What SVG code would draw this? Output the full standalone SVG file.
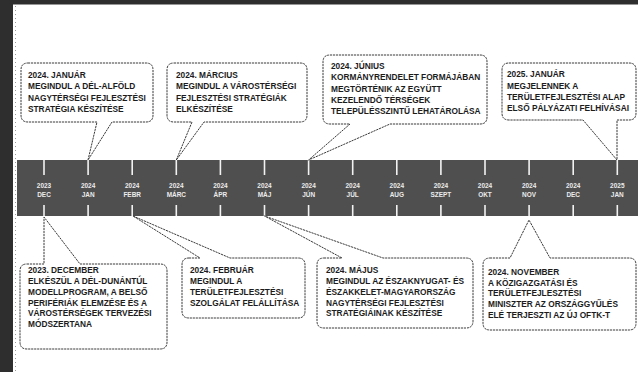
<svg xmlns="http://www.w3.org/2000/svg" width="638" height="372" viewBox="0 0 638 372">
<defs>
<style>
.bg{fill:#ffffff}
.frame{fill:#2e2e2e}
.band{fill:#4f4f4f}
.tick{stroke:#f2f2f2;stroke-width:1.6}
.lbl{font-family:"Liberation Sans",Arial,sans-serif;font-weight:bold;font-size:7.6px;fill:#ececec;text-anchor:middle}
.call{fill:#ffffff;stroke:#3a3a3a;stroke-width:1;stroke-dasharray:2.2 0.8;stroke-linejoin:round}
.txt{font-family:"Liberation Sans",Arial,sans-serif;font-weight:bold;font-size:9.8px;fill:#1c1c1c}
</style>
</defs>
<rect class="bg" x="0" y="0" width="638" height="372"/>
<rect class="frame" x="0" y="0" width="13" height="372"/>
<rect class="frame" x="0" y="0" width="638" height="4.5"/>
<line x1="15.5" y1="6" x2="15.5" y2="372" stroke="#9a9a9a" stroke-width="1" stroke-dasharray="1 3"/>

<g id="timeline">
<rect class="band" x="17" y="160" width="621" height="56"/>
<g id="ticks">
<line class="tick" x1="44" y1="160" x2="44" y2="175"/><line class="tick" x1="44" y1="205" x2="44" y2="216"/>
<line class="tick" x1="88.1" y1="160" x2="88.1" y2="175"/><line class="tick" x1="88.1" y1="205" x2="88.1" y2="216"/>
<line class="tick" x1="132.2" y1="160" x2="132.2" y2="175"/><line class="tick" x1="132.2" y1="205" x2="132.2" y2="216"/>
<line class="tick" x1="176.3" y1="160" x2="176.3" y2="175"/><line class="tick" x1="176.3" y1="205" x2="176.3" y2="216"/>
<line class="tick" x1="220.4" y1="160" x2="220.4" y2="175"/><line class="tick" x1="220.4" y1="205" x2="220.4" y2="216"/>
<line class="tick" x1="264.5" y1="160" x2="264.5" y2="175"/><line class="tick" x1="264.5" y1="205" x2="264.5" y2="216"/>
<line class="tick" x1="308.6" y1="160" x2="308.6" y2="175"/><line class="tick" x1="308.6" y1="205" x2="308.6" y2="216"/>
<line class="tick" x1="352.7" y1="160" x2="352.7" y2="175"/><line class="tick" x1="352.7" y1="205" x2="352.7" y2="216"/>
<line class="tick" x1="396.8" y1="160" x2="396.8" y2="175"/><line class="tick" x1="396.8" y1="205" x2="396.8" y2="216"/>
<line class="tick" x1="440.9" y1="160" x2="440.9" y2="175"/><line class="tick" x1="440.9" y1="205" x2="440.9" y2="216"/>
<line class="tick" x1="485" y1="160" x2="485" y2="175"/><line class="tick" x1="485" y1="205" x2="485" y2="216"/>
<line class="tick" x1="529.1" y1="160" x2="529.1" y2="175"/><line class="tick" x1="529.1" y1="205" x2="529.1" y2="216"/>
<line class="tick" x1="573.2" y1="160" x2="573.2" y2="175"/><line class="tick" x1="573.2" y1="205" x2="573.2" y2="216"/>
<line class="tick" x1="617.3" y1="160" x2="617.3" y2="175"/><line class="tick" x1="617.3" y1="205" x2="617.3" y2="216"/>
</g>
<g id="labels">
<text class="lbl" transform="translate(44 0) scale(.85 1)"><tspan x="0" y="188">2023</tspan><tspan x="0" y="197">DEC</tspan></text>
<text class="lbl" transform="translate(88.1 0) scale(.85 1)"><tspan x="0" y="188">2024</tspan><tspan x="0" y="197">JAN</tspan></text>
<text class="lbl" transform="translate(132.2 0) scale(.85 1)"><tspan x="0" y="188">2024</tspan><tspan x="0" y="197">FEBR</tspan></text>
<text class="lbl" transform="translate(176.3 0) scale(.85 1)"><tspan x="0" y="188">2024</tspan><tspan x="0" y="197">MÁRC</tspan></text>
<text class="lbl" transform="translate(220.4 0) scale(.85 1)"><tspan x="0" y="188">2024</tspan><tspan x="0" y="197">ÁPR</tspan></text>
<text class="lbl" transform="translate(264.5 0) scale(.85 1)"><tspan x="0" y="188">2024</tspan><tspan x="0" y="197">MÁJ</tspan></text>
<text class="lbl" transform="translate(308.6 0) scale(.85 1)"><tspan x="0" y="188">2024</tspan><tspan x="0" y="197">JÚN</tspan></text>
<text class="lbl" transform="translate(352.7 0) scale(.85 1)"><tspan x="0" y="188">2024</tspan><tspan x="0" y="197">JÚL</tspan></text>
<text class="lbl" transform="translate(396.8 0) scale(.85 1)"><tspan x="0" y="188">2024</tspan><tspan x="0" y="197">AUG</tspan></text>
<text class="lbl" transform="translate(440.9 0) scale(.85 1)"><tspan x="0" y="188">2024</tspan><tspan x="0" y="197">SZEPT</tspan></text>
<text class="lbl" transform="translate(485 0) scale(.85 1)"><tspan x="0" y="188">2024</tspan><tspan x="0" y="197">OKT</tspan></text>
<text class="lbl" transform="translate(529.1 0) scale(.85 1)"><tspan x="0" y="188">2024</tspan><tspan x="0" y="197">NOV</tspan></text>
<text class="lbl" transform="translate(573.2 0) scale(.85 1)"><tspan x="0" y="188">2024</tspan><tspan x="0" y="197">DEC</tspan></text>
<text class="lbl" transform="translate(617.3 0) scale(.85 1)"><tspan x="0" y="188">2025</tspan><tspan x="0" y="197">JAN</tspan></text>
</g>
</g>

<g id="connectors">
<path class="call" d="M28,63 H146 Q153,63 153,70 V115 Q153,122 146,122 H112 L88,160 L97,122 H28 Q21,122 21,115 V70 Q21,63 28,63 Z"/>
<path class="call" d="M174,63 H300 Q307,63 307,70 V115 Q307,122 300,122 H204 L176.3,160 L192,122 H174 Q167,122 167,115 V70 Q167,63 174,63 Z"/>
<path class="call" d="M330,55 H480 Q487,55 487,62 V117 Q487,124 480,124 H390 L308.6,160 L350,124 H330 Q323,124 323,117 V62 Q323,55 330,55 Z"/>
<path class="call" d="M509,63 H629 Q636,63 636,70 V113 Q636,120 629,120 H617 L617,160 L583,120 H509 Q502,120 502,113 V70 Q502,63 509,63 Z"/>
<path class="call" d="M27,264 H44 L44,217 L80,264 H160 Q167,264 167,271 V342 Q167,349 160,349 H27 Q20,349 20,342 V271 Q20,264 27,264 Z"/>
<path class="call" d="M189,258 H200 L133,216 L230,258 H298 Q305,258 305,265 V311 Q305,318 298,318 H189 Q182,318 182,311 V265 Q182,258 189,258 Z"/>
<path class="call" d="M324,258 H342 L264.5,216 L383,258 H466 Q473,258 473,265 V321 Q473,328 466,328 H324 Q317,328 317,321 V265 Q317,258 324,258 Z"/>
<path class="call" d="M490,258 H510 L529,220 L550,258 H629 Q636,258 636,265 V323 Q636,330 629,330 H490 Q483,330 483,323 V265 Q483,258 490,258 Z"/>
</g>

<g id="n-2024-jan">
<text class="txt" transform="translate(28 0) scale(.85 1)"><tspan x="0" y="78">2024. JANUÁR</tspan><tspan x="0" y="89.4">MEGINDUL A DÉL-ALFÖLD</tspan><tspan x="0" y="100.8">NAGYTÉRSÉGI FEJLESZTÉSI</tspan><tspan x="0" y="112.2">STRATÉGIA KÉSZÍTÉSE</tspan></text>
</g>
<g id="n-2024-marc">
<text class="txt" transform="translate(176 0) scale(.85 1)"><tspan x="0" y="78">2024. MÁRCIUS</tspan><tspan x="0" y="89.4">MEGINDUL A VÁROSTÉRSÉGI</tspan><tspan x="0" y="100.8">FEJLESZTÉSI STRATÉGIÁK</tspan><tspan x="0" y="112.2">ELKÉSZÍTÉSE</tspan></text>
</g>
<g id="n-2024-jun">
<text class="txt" transform="translate(331 0) scale(.85 1)"><tspan x="0" y="69">2024. JÚNIUS</tspan><tspan x="0" y="80.3">KORMÁNYRENDELET FORMÁJÁBAN</tspan><tspan x="0" y="91.6">MEGTÖRTÉNIK AZ EGYÜTT</tspan><tspan x="0" y="102.9">KEZELENDŐ TÉRSÉGEK</tspan><tspan x="0" y="114.2">TELEPÜLÉSSZINTŰ LEHATÁROLÁSA</tspan></text>
</g>
<g id="n-2025-jan">
<text class="txt" transform="translate(507 0) scale(.85 1)"><tspan x="0" y="77.5">2025. JANUÁR</tspan><tspan x="0" y="88.8">MEGJELENNEK A</tspan><tspan x="0" y="100.1">TERÜLETFEJLESZTÉSI ALAP</tspan><tspan x="0" y="111.4">ELSŐ PÁLYÁZATI FELHÍVÁSAI</tspan></text>
</g>
<g id="n-2023-dec">
<text class="txt" transform="translate(28 0) scale(.85 1)"><tspan x="0" y="273.5">2023. DECEMBER</tspan><tspan x="0" y="284.2">ELKÉSZÜL A DÉL-DUNÁNTÚL</tspan><tspan x="0" y="294.9">MODELLPROGRAM, A BELSŐ</tspan><tspan x="0" y="305.6">PERIFÉRIÁK ELEMZÉSE ÉS A</tspan><tspan x="0" y="316.3">VÁROSTÉRSÉGEK TERVEZÉSI</tspan><tspan x="0" y="327">MÓDSZERTANA</tspan></text>
</g>
<g id="n-2024-febr">
<text class="txt" transform="translate(190 0) scale(.85 1)"><tspan x="0" y="273.5">2024. FEBRUÁR</tspan><tspan x="0" y="284.5">MEGINDUL A</tspan><tspan x="0" y="295.2">TERÜLETFEJLESZTÉSI</tspan><tspan x="0" y="305.9">SZOLGÁLAT FELÁLLÍTÁSA</tspan></text>
</g>
<g id="n-2024-maj">
<text class="txt" transform="translate(326 0) scale(.85 1)"><tspan x="0" y="273.5">2024. MÁJUS</tspan><tspan x="0" y="284.3">MEGINDUL AZ ÉSZAKNYUGAT- ÉS</tspan><tspan x="0" y="295">ÉSZAKKELET-MAGYARORSZÁG</tspan><tspan x="0" y="305.7">NAGYTÉRSÉGI FEJLESZTÉSI</tspan><tspan x="0" y="316.4">STRATÉGIÁINAK KÉSZÍTÉSE</tspan></text>
</g>
<g id="n-2024-nov">
<text class="txt" transform="translate(488 0) scale(.85 1)"><tspan x="0" y="275">2024. NOVEMBER</tspan><tspan x="0" y="285.7">A KÖZIGAZGATÁSI ÉS</tspan><tspan x="0" y="296.4">TERÜLETFEJLESZTÉSI</tspan><tspan x="0" y="307.1">MINISZTER AZ ORSZÁGGYŰLÉS</tspan><tspan x="0" y="317.8">ELÉ TERJESZTI AZ ÚJ OFTK-T</tspan></text>
</g>
</svg>
